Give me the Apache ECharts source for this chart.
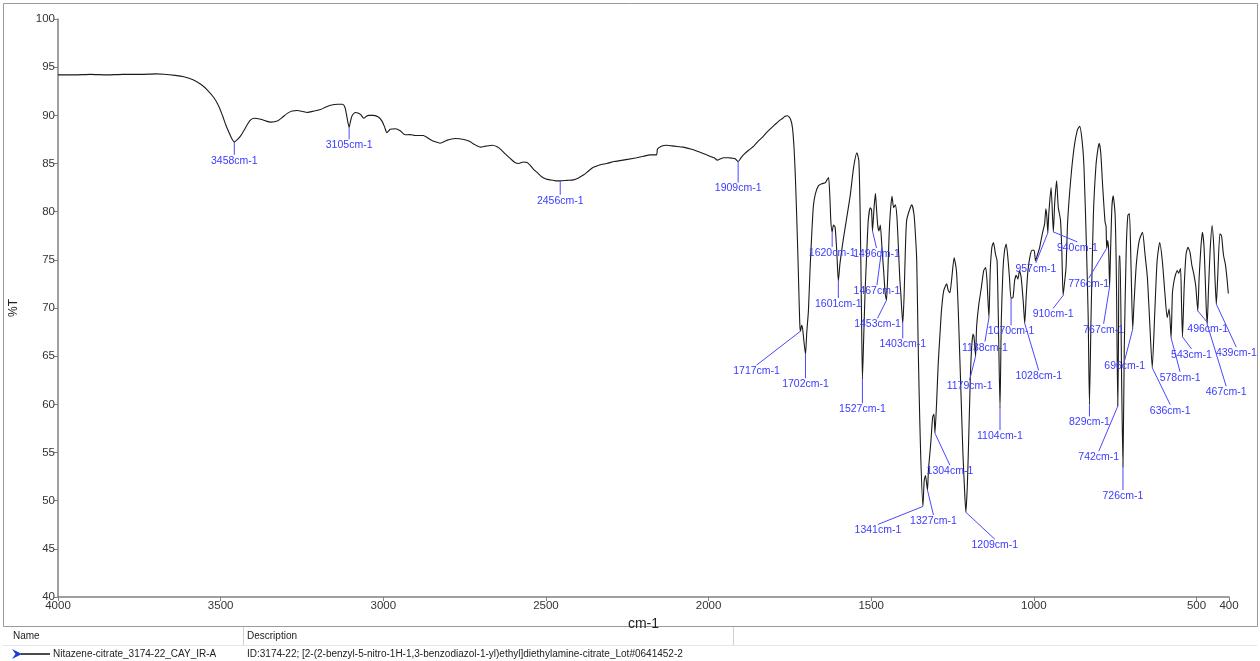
<!DOCTYPE html>
<html><head><meta charset="utf-8">
<script src="https://cdn.jsdelivr.net/npm/echarts@6/dist/echarts.min.js"></script>
<style>html,body{margin:0;padding:0;background:#fff}#c{width:1260px;height:661px}</style>
</head><body><div id="c"></div>
<script>
// IR spectrum: [wavenumber (cm-1), %T]
const spectrum = [
[4000,94.2],[3950,94.2],[3900,94.25],[3850,94.2],[3800,94.25],[3744,94.25],[3700,94.3],[3674,94.27],[3640,94.15],[3613,94.0],[3585,93.7],[3560,93.2],[3540,92.6],[3520,91.8],[3505,90.9],[3494,89.95],[3484,89.0],[3474,88.2],[3466,87.6],[3458,87.25],[3448,87.5],[3438,87.9],[3427,88.5],[3417,89.1],[3407,89.55],[3397,89.7],[3377,89.6],[3360,89.4],[3346,89.3],[3326,89.4],[3310,89.8],[3295,90.2],[3280,90.45],[3264,90.5],[3248,90.4],[3234,90.3],[3213,90.45],[3193,90.6],[3178,90.85],[3162,91.05],[3140,91.15],[3126,91.15],[3120,91.0],[3116,90.6],[3110,89.5],[3105,88.75],[3100,89.5],[3096,89.95],[3086,90.3],[3078,90.25],[3070,90.1],[3060,89.7],[3052,89.9],[3045,90.0],[3030,90.0],[3014,89.8],[3004,89.4],[2996,88.8],[2989,88.2],[2983,88.4],[2979,88.55],[2963,88.6],[2948,88.4],[2933,87.98],[2917,88.0],[2902,87.9],[2877,87.9],[2856,87.5],[2840,87.25],[2825,87.1],[2805,87.4],[2779,87.6],[2752,87.5],[2735,87.3],[2721,87.0],[2701,86.7],[2685,86.8],[2665,86.9],[2650,86.75],[2640,86.5],[2625,86.0],[2609,85.5],[2595,85.1],[2584,85.0],[2570,85.15],[2558,85.1],[2548,84.8],[2538,84.4],[2525,84.0],[2512,83.6],[2500,83.4],[2487,83.3],[2470,83.2],[2456,83.2],[2435,83.25],[2415,83.3],[2400,83.5],[2385,83.8],[2370,84.2],[2354,84.6],[2335,84.85],[2313,85.0],[2290,85.2],[2272,85.3],[2245,85.45],[2221,85.6],[2200,85.75],[2180,85.9],[2160,85.9],[2157,86.5],[2145,86.8],[2129,86.9],[2105,86.8],[2078,86.7],[2055,86.5],[2037,86.3],[2010,85.95],[1983,85.6],[1973,85.35],[1963,85.5],[1953,85.6],[1940,85.6],[1927,85.55],[1918,85.5],[1909,85.2],[1900,85.6],[1891,85.95],[1876,86.4],[1861,86.8],[1848,87.3],[1835,87.7],[1822,88.2],[1810,88.6],[1797,89.0],[1784,89.4],[1772,89.7],[1765,89.9],[1757,89.95],[1748,89.6],[1742,88.7],[1737,86.5],[1733,83.5],[1729,79.5],[1725,75.0],[1721,70.0],[1719,68.0],[1717,67.6],[1714,68.2],[1711,67.9],[1707,66.6],[1702,65.2],[1698,67.5],[1693,69.7],[1688,74.0],[1683,77.5],[1678,80.5],[1672,81.8],[1662,82.7],[1652,82.9],[1641,83.0],[1636,83.3],[1631,83.55],[1627,81.5],[1624,79.0],[1620,77.9],[1616,78.6],[1611,78.4],[1606,76.0],[1601,72.8],[1596,74.6],[1585,77.3],[1575,79.4],[1564,81.8],[1554,84.6],[1544,86.1],[1538,85.3],[1534,80.0],[1530,70.0],[1527,62.6],[1523,67.0],[1519,71.5],[1514,75.5],[1509,79.1],[1503,80.4],[1499,80.2],[1496,78.0],[1491,80.5],[1487,81.9],[1484,80.5],[1480,78.6],[1476,78.0],[1472,78.6],[1467,76.3],[1462,74.0],[1457,71.5],[1453,70.8],[1449,73.5],[1445,77.5],[1441,80.0],[1436,81.6],[1431,80.4],[1426,80.7],[1421,79.5],[1416,76.0],[1412,73.0],[1409,71.5],[1403,68.4],[1399,71.1],[1395,76.0],[1391,79.1],[1381,80.3],[1375,80.7],[1368,79.6],[1363,77.0],[1360,74.9],[1356,67.0],[1353,61.8],[1348,54.9],[1341,49.4],[1337,52.1],[1333,52.6],[1327,51.1],[1324,53.2],[1317,55.9],[1311,58.7],[1307,59.0],[1304,57.0],[1299,60.1],[1294,64.2],[1289,67.0],[1284,69.7],[1277,71.8],[1268,72.5],[1263,71.8],[1258,71.6],[1253,72.85],[1245,75.2],[1238,73.9],[1233,70.4],[1228,65.3],[1223,60.1],[1218,54.9],[1213,51.1],[1209,48.8],[1204,52.0],[1199,58.0],[1195,63.0],[1191,66.0],[1187,67.3],[1184,67.0],[1179,65.0],[1176,68.0],[1169,70.4],[1161,72.2],[1154,73.9],[1148,74.2],[1144,72.85],[1138,69.0],[1134,73.9],[1129,76.3],[1124,76.8],[1118,75.6],[1113,74.9],[1109,68.7],[1104,59.6],[1100,68.7],[1095,73.9],[1090,76.0],[1085,76.65],[1080,75.3],[1075,73.2],[1070,71.0],[1064,71.1],[1059,72.85],[1054,73.4],[1049,73.0],[1044,73.9],[1039,73.2],[1032,70.4],[1028,68.4],[1023,71.5],[1018,73.9],[1011,75.5],[1005,76.0],[999,76.0],[995,74.9],[989,75.5],[982,76.3],[973,77.85],[967,78.7],[963,80.3],[960,79.5],[957,77.8],[954,79.8],[947,82.5],[940,77.9],[936,80.8],[930,83.2],[925,80.5],[918,79.1],[914,76.0],[910,71.3],[906,72.5],[901,74.2],[896,79.0],[886,83.55],[876,86.7],[866,88.5],[859,88.85],[852,87.5],[846,84.8],[838,76.1],[833,69.2],[829,60.0],[824,69.2],[817,79.6],[809,84.8],[803,86.5],[799,87.1],[794,86.0],[789,83.0],[781,78.9],[778,78.5],[776,76.2],[773,77.0],[770,76.0],[767,72.2],[764,76.0],[760,80.5],[756,81.65],[750,79.6],[746,72.7],[742,59.8],[740,65.7],[738,75.4],[735,75.4],[730,62.25],[726,53.5],[722,65.7],[716,76.0],[711,79.6],[706,79.8],[701,74.0],[696,67.8],[692,70.5],[685,74.5],[676,77.0],[666,77.85],[658,75.5],[651,73.2],[644,68.7],[636,63.8],[628,69.7],[621,74.9],[613,76.8],[605,74.9],[597,71.5],[590,69.0],[584,69.9],[578,66.9],[574,71.5],[569,72.8],[564,73.5],[559,73.9],[555,73.6],[549,74.1],[546,70.5],[543,67.0],[538,72.0],[532,75.6],[526,76.3],[520,75.8],[514,74.4],[508,73.5],[502,72.2],[496,69.7],[492,73.0],[487,76.0],[482,77.85],[477,76.5],[473,73.0],[470,70.0],[467,68.3],[463,72.0],[458,76.0],[452,78.55],[447,76.5],[443,73.0],[439,70.4],[435,73.0],[428,77.7],[423,77.5],[417,75.5],[411,74.5],[406,73.0],[402,71.5]
];

// labelled peaks (cm-1)
const peakWavenumbers = [3458,3105,2456,1909,1717,1702,1620,1601,1496,1467,1453,1403,1527,1341,1327,1304,1209,1179,1138,1104,1070,1028,957,940,910,776,767,829,742,726,696,636,578,543,496,467,439];
// leader line end, pixel offset from the peak point (layout only)
const leaderOffsets = [[0,13],[0,12],[0,14],[0,21],[-44,34],[0,24],[0,15],[0,17],[4,17],[-5,38],[-9,18],[0,15],[0,24],[-45,18],[6,25],[15,32],[29,27],[-6,24],[-4,24],[0,22],[0,27],[14,47],[-12,30],[24,10],[-10,13],[-18,30],[-6,37],[0,12],[-19,45],[0,23],[-8,31],[18,37],[9,34],[9,12],[10,12],[19,62],[20,43]];

const xTicks = [4000,3500,3000,2500,2000,1500,1000,500,400];
const yMin = 40, yMax = 100, yStep = 5;

const seriesName = 'Nitazene-citrate_3174-22_CAY_IR-A';
const seriesDesc = 'ID:3174-22; [2-(2-benzyl-5-nitro-1H-1,3-benzodiazol-1-yl)ethyl]diethylamine-citrate_Lot#0641452-2';

function lookup(wn){
  let best = spectrum[0];
  for (const p of spectrum) if (Math.abs(p[0]-wn) < Math.abs(best[0]-wn)) best = p;
  return best[1];
}
const peakData = peakWavenumbers.map(w => [w, lookup(w)]);

const FONT = '"Liberation Sans", Arial, sans-serif';
const chart = echarts.init(document.getElementById('c'), null, {renderer:'canvas'});
chart.setOption({
  animation:false,
  backgroundColor:'#fff',
  grid:{left:57, right:31, top:19, bottom:64},
  xAxis:{
    type:'value', inverse:true, min:400, max:4000,
    name:'cm-1', nameLocation:'middle', nameGap:13,
    nameTextStyle:{fontFamily:FONT, fontSize:14, color:'#222'},
    axisLine:{show:true, onZero:false, lineStyle:{color:'#808080', width:1.5}},
    axisTick:{show:true, length:4, customValues:xTicks, lineStyle:{color:'#808080'}},
    axisLabel:{customValues:xTicks, formatter:function(v){return String(v);}, fontFamily:FONT, fontSize:11.5, color:'#333', margin:3},
    splitLine:{show:false}
  },
  yAxis:{
    type:'value', min:yMin, max:yMax, interval:yStep,
    name:'%T', nameLocation:'middle', nameGap:38, nameRotate:90,
    nameTextStyle:{fontFamily:FONT, fontSize:12, color:'#222'},
    axisLine:{show:true, lineStyle:{color:'#808080', width:1.5}},
    axisTick:{show:true, length:4, lineStyle:{color:'#808080'}},
    axisLabel:{fontFamily:FONT, fontSize:11.5, color:'#333', margin:3},
    splitLine:{show:false}
  },
  series:[
    {type:'line', data:spectrum, showSymbol:false, smooth:0.2, silent:true,
     lineStyle:{color:'#1a1a1a', width:1.1}, z:2},
    {type:'custom', data:peakData, encode:{x:0,y:1}, z:5, silent:true, clip:false,
     renderItem:function(params, api){
       const i = params.dataIndex;
       const p = api.coord([api.value(0), api.value(1)]);
       const o = leaderOffsets[i];
       const ex = p[0]+o[0], ey = p[1]+o[1];
       return {type:'group', children:[
         {type:'line', shape:{x1:p[0], y1:p[1], x2:ex, y2:ey}, style:{stroke:'#4848ff', lineWidth:1}},
         {type:'text', x:ex, y:ey+0.5, style:{text:api.value(0)+'cm-1', fill:'#3a3aff', font:'10.5px '+FONT, align:'center', verticalAlign:'top'}}
       ]};
     }}
  ],
  graphic:[
    {type:'rect', shape:{x:3.5, y:3.5, width:1254, height:623}, style:{fill:'none', stroke:'#9a9a9a', lineWidth:1}, silent:true},
    {type:'line', shape:{x1:243.5, y1:627, x2:243.5, y2:645}, style:{stroke:'#d0d0d0', lineWidth:1}},
    {type:'line', shape:{x1:733.5, y1:627, x2:733.5, y2:645}, style:{stroke:'#d0d0d0', lineWidth:1}},
    {type:'line', shape:{x1:3, y1:645.5, x2:1257, y2:645.5}, style:{stroke:'#e6e6e6', lineWidth:1}},
    {type:'text', x:13, y:636, style:{text:'Name', fill:'#222', font:'10px '+FONT, verticalAlign:'middle'}},
    {type:'text', x:247, y:636, style:{text:'Description', fill:'#222', font:'10px '+FONT, verticalAlign:'middle'}},
    {type:'polygon', shape:{points:[[12,649],[22,654],[12,659],[15.5,654]]}, style:{fill:'#1c3fd6'}},
    {type:'line', shape:{x1:21, y1:654, x2:50, y2:654}, style:{stroke:'#111', lineWidth:1.5}},
    {type:'text', x:53, y:654.5, style:{text:seriesName, fill:'#222', font:'10px '+FONT, verticalAlign:'middle'}},
    {type:'text', x:247, y:654.5, style:{text:seriesDesc, fill:'#222', font:'10px '+FONT, verticalAlign:'middle'}}
  ]
});
</script></body></html>
